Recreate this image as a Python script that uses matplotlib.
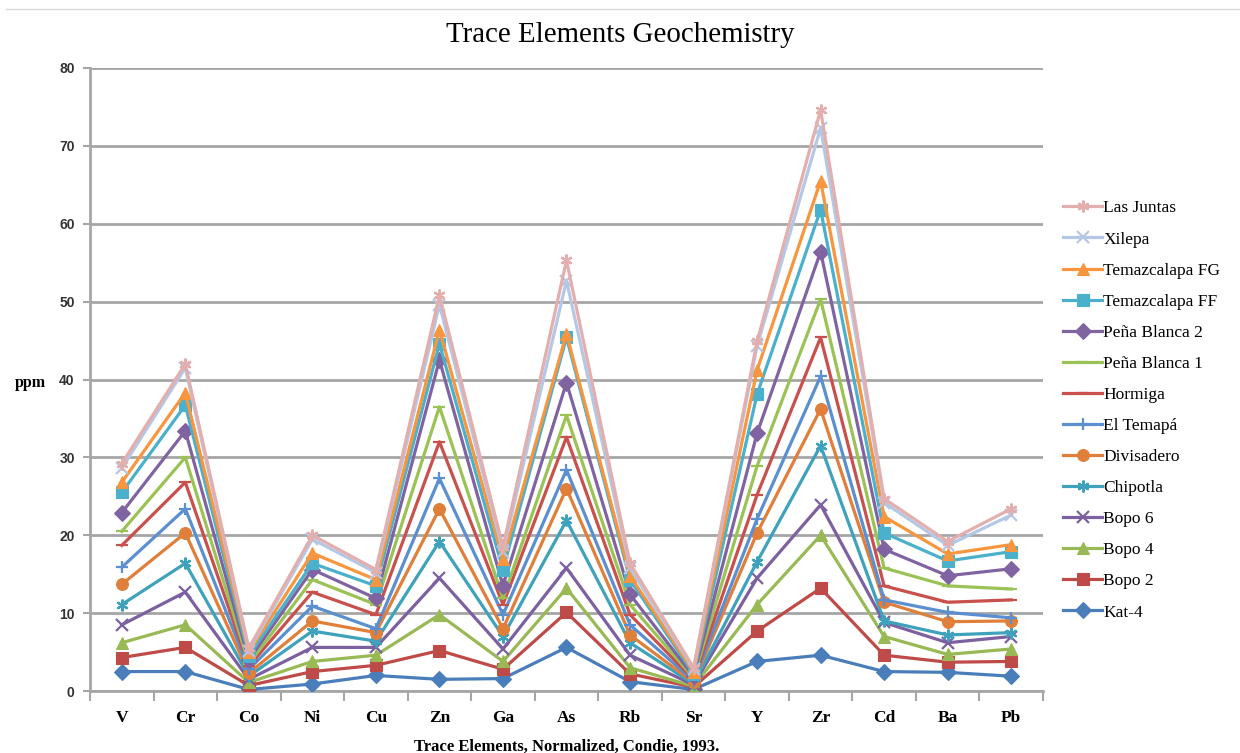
import matplotlib
matplotlib.use('Agg')
import matplotlib.pyplot as plt
from matplotlib.lines import Line2D
from matplotlib.ticker import FixedLocator, NullFormatter
import numpy as np

elements = ['V', 'Cr', 'Co', 'Ni', 'Cu', 'Zn', 'Ga', 'As', 'Rb', 'Sr', 'Y', 'Zr', 'Cd', 'Ba', 'Pb']

kat4 = [2.5, 2.5, 0.2, 0.9, 2.0, 1.5, 1.6, 5.6, 1.2, 0.2, 3.8, 4.6, 2.5, 2.4, 1.9]
bopo2 = [4.3, 5.6, 0.7, 2.5, 3.3, 5.2, 2.8, 10.1, 2.2, 0.5, 7.7, 13.2, 4.6, 3.7, 3.8]
bopo4 = [6.2, 8.5, 1.1, 3.8, 4.6, 9.8, 3.8, 13.2, 3.0, 0.6, 11.1, 20.0, 7.0, 4.7, 5.4]
bopo6 = [8.5, 12.7, 1.5, 5.6, 5.6, 14.5, 5.4, 15.8, 4.6, 0.8, 14.5, 23.9, 8.8, 6.2, 7.0]
chipotla = [11.1, 16.4, 1.9, 7.7, 6.4, 19.2, 7.0, 21.9, 6.2, 0.9, 16.6, 31.5, 9.0, 7.2, 7.5]
divisadero = [13.7, 20.3, 2.3, 9.0, 7.5, 23.4, 8.0, 26.0, 7.2, 1.1, 20.3, 36.2, 11.4, 8.9, 9.0]
el_temapa = [15.9, 23.4, 2.8, 10.9, 8.0, 27.3, 9.8, 28.4, 8.5, 1.3, 22.1, 40.4, 11.7, 10.1, 9.4]
hormiga = [18.7, 26.8, 3.2, 12.7, 9.8, 32.0, 11.1, 32.6, 9.8, 1.5, 25.2, 45.4, 13.5, 11.4, 11.7]
pena_blanca1 = [20.5, 30.0, 3.5, 14.3, 11.1, 36.5, 11.9, 35.4, 11.1, 1.7, 28.9, 50.3, 15.8, 13.5, 13.1]
pena_blanca2 = [22.9, 33.4, 4.0, 15.6, 11.9, 42.5, 13.5, 39.6, 12.4, 1.9, 33.1, 56.4, 18.2, 14.8, 15.7]
temaz_ff = [25.5, 36.7, 4.5, 16.4, 13.5, 44.6, 15.6, 45.4, 14.3, 2.2, 38.1, 61.8, 20.3, 16.7, 17.9]
temaz_fg = [26.8, 38.3, 5.0, 17.7, 14.3, 46.4, 16.9, 45.9, 14.8, 2.5, 41.2, 65.5, 22.4, 17.6, 18.8]
xilepa = [28.6, 41.5, 5.2, 19.5, 15.2, 49.6, 17.9, 52.7, 15.8, 2.8, 44.3, 72.3, 24.2, 18.7, 22.6]
las_juntas = [29.2, 42.0, 5.5, 20.0, 15.6, 50.8, 18.5, 55.3, 16.4, 3.0, 44.9, 74.6, 24.7, 19.2, 23.4]

series = [
    ('Kat-4', kat4, '#4A7EBB', 'D'),
    ('Bopo 2', bopo2, '#BE4B48', 's'),
    ('Bopo 4', bopo4, '#98B954', '^'),
    ('Bopo 6', bopo6, '#7D60A0', 'x'),
    ('Chipotla', chipotla, '#3FA2BC', (6, 2, 0)),
    ('Divisadero', divisadero, '#E07F3A', 'o'),
    ('El Temapá', el_temapa, '#5B8FD0', '+'),
    ('Hormiga', hormiga, '#C8504D', '_'),
    ('Peña Blanca 1', pena_blanca1, '#9BC255', '_'),
    ('Peña Blanca 2', pena_blanca2, '#8064A2', 'D'),
    ('Temazcalapa FF', temaz_ff, '#4BB0CC', 's'),
    ('Temazcalapa FG', temaz_fg, '#F7963F', '^'),
    ('Xilepa', xilepa, '#B4C8E6', 'x'),
    ('Las Juntas', las_juntas, '#E3AFAE', (6, 2, 0)),
]

serif = 'Liberation Serif'
fig = plt.figure(figsize=(12.4, 7.53), dpi=100)
ax = fig.add_axes([0.0726, 0.0823, 0.7685, 0.8274])

x = np.arange(len(elements))
for name, vals, col, mk in series:
    ax.plot(x, vals, color=col, lw=2.3, marker=mk, markersize=8.5,
            markeredgewidth=1.6 if mk in ('x', '+', '_', (6, 2, 0)) else 0.8,
            markeredgecolor=col, label=name, zorder=3)

ax.set_xlim(-0.5, len(elements) - 0.5)
ax.set_ylim(0, 80)
ax.set_yticks(range(0, 81, 10))
ax.grid(axis='y', color='#a6a6a6', lw=2)
ax.set_axisbelow(True)
for s in ['top', 'right']:
    ax.spines[s].set_visible(False)
for s in ['left', 'bottom']:
    ax.spines[s].set_color('#a6a6a6')
    ax.spines[s].set_linewidth(2)

ax.set_xticks(x)
ax.set_xticklabels(elements, fontfamily=serif, fontweight='bold', fontsize=12.5)
ax.xaxis.set_minor_locator(FixedLocator(np.arange(-0.5, len(elements), 1)))
ax.xaxis.set_minor_formatter(NullFormatter())
ax.tick_params(axis='x', which='major', length=0, pad=14)
ax.tick_params(axis='x', which='minor', length=7, width=1.5, color='#a6a6a6')
ax.tick_params(axis='y', length=5, width=1.5, color='#a6a6a6', labelsize=10, labelcolor='#333333', pad=6)
for lbl in ax.get_yticklabels():
    lbl.set_fontfamily('Liberation Sans')
    lbl.set_fontweight('bold')

ax.set_xlabel('Trace Elements, Normalized, Condie, 1993.', fontfamily=serif,
              fontweight='bold', fontsize=12, labelpad=9)
fig.text(0.012, 0.492, 'ppm', fontfamily=serif, fontweight='bold', fontsize=11.5,
         ha='left', va='center')
fig.text(0.5, 0.953, 'Trace Elements Geochemistry', fontfamily=serif, fontsize=20.8,
         ha='center', va='center')
fig.add_artist(Line2D([0.005, 1.0], [0.988, 0.988], color='#d9d9d9', lw=1))

handles, labels = ax.get_legend_handles_labels()
leg = fig.legend(handles[::-1], labels[::-1], loc='center left',
                 bbox_to_anchor=(0.852, 0.455), frameon=False,
                 prop={'family': serif, 'size': 12.5}, labelspacing=0.86,
                 handlelength=2.2, handletextpad=0.1, borderaxespad=0)

fig.savefig('out.png', dpi=100)
